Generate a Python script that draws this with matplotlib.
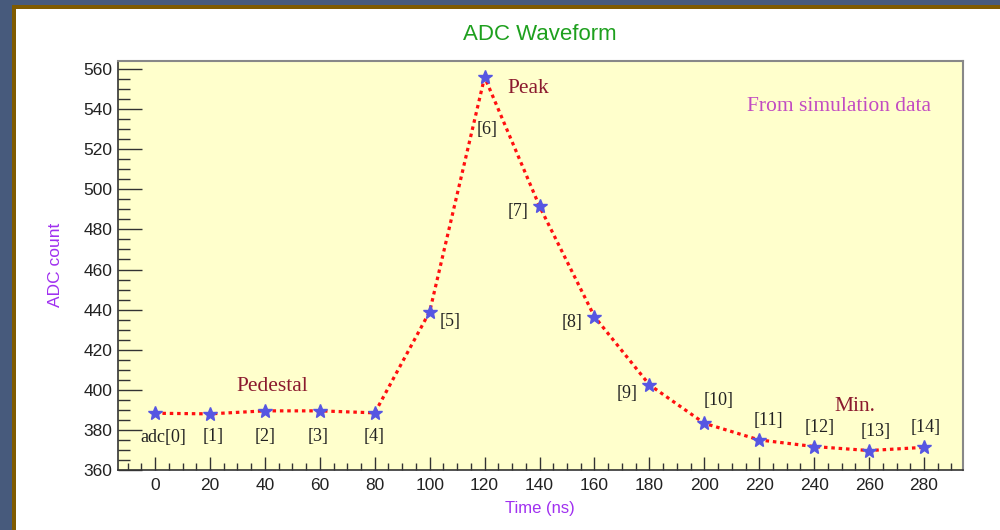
import matplotlib
matplotlib.use("Agg")
import matplotlib.pyplot as plt
from matplotlib.patches import Rectangle
from matplotlib.ticker import MultipleLocator

# ---- data ----
time_ns = [0, 20, 40, 60, 80, 100, 120, 140, 160, 180, 200, 220, 240, 260, 280]
adc = [388.3, 388.0, 389.5, 389.5, 388.5, 439.0, 556.0, 491.5, 436.5, 402.5,
       383.3, 375.0, 371.7, 369.7, 371.3]
point_labels = ["adc[0]", "[1]", "[2]", "[3]", "[4]", "[5]", "[6]", "[7]", "[8]",
                "[9]", "[10]", "[11]", "[12]", "[13]", "[14]"]
x_ticks = list(range(0, 281, 20))
y_ticks = list(range(360, 561, 20))

# label offsets in pixels relative to each point
label_offsets = [(8, -24), (3, -23), (0, -26), (-2, -26), (-1, -24), (20, -10),
                 (3, -52), (-21, -5), (-22, -6), (-22, -9), (14, 23), (9, 19),
                 (6, 19), (7, 19), (2, 20)]

fig = plt.figure(figsize=(10, 5.3), dpi=100)
fig.patch.set_facecolor("white")

W, H = 1000.0, 530.0
# outer frame (blue background, brown border, white pad)
fig.add_artist(Rectangle((0, 0), 1, 1, transform=fig.transFigure,
                         facecolor="#475a7c", edgecolor="none", zorder=-3))
fig.add_artist(Rectangle((12 / W, 0), 1, 1 - 5 / H, transform=fig.transFigure,
                         facecolor="#7f5a00", edgecolor="none", zorder=-2))
fig.add_artist(Rectangle((16 / W, 0), 1, 1 - 9 / H, transform=fig.transFigure,
                         facecolor="white", edgecolor="none", zorder=-1))

ax = fig.add_axes([118 / W, 1 - 470 / H, (963 - 118) / W, (470 - 61) / H])
ax.set_facecolor("#ffffcc")
ax.set_xlim(-13.5, 294.2)
ax.set_ylim(360, 564)

ax.plot(time_ns, adc, color="#ff1010", lw=2.3, linestyle=(0, (1.1, 1.2)),
        zorder=2)
ax.plot(time_ns, adc, linestyle="none", marker="*", ms=10.5,
        color="#5656e2", markeredgecolor="#5656e2", zorder=3)

serif = ["Liberation Serif", "DejaVu Serif"]
for t, v, lab, (dx, dy) in zip(time_ns, adc, point_labels, label_offsets):
    ax.annotate(lab, xy=(t, v), xytext=(dx, dy), textcoords="offset pixels",
                ha="center", va="center", fontsize=13, family=serif,
                color="#222222", zorder=4)

ax.annotate("Peak", xy=(time_ns[6], adc[6]), xytext=(44, -11),
            textcoords="offset pixels", ha="center", va="center",
            fontsize=15.5, family=serif, color="#8b1a2e")
ax.annotate("Pedestal", xy=(time_ns[2], adc[2]), xytext=(7, 24),
            textcoords="offset pixels", ha="center", va="center",
            fontsize=15.5, family=serif, color="#8b1a2e")
ax.annotate("Min.", xy=(time_ns[13], adc[13]), xytext=(-14, 44),
            textcoords="offset pixels", ha="center", va="center",
            fontsize=15.5, family=serif, color="#8b1a2e")
ax.text(0.853, 0.889, "From simulation data", transform=ax.transAxes,
        ha="center", va="center", fontsize=15.5, family=serif,
        color="#c24cc2")

# ticks
ax.set_xticks(x_ticks)
ax.set_yticks(y_ticks)
ax.xaxis.set_minor_locator(MultipleLocator(5))
ax.yaxis.set_minor_locator(MultipleLocator(5))
ax.tick_params(axis="x", which="major", direction="in", length=9.5, width=1,
               color="#333333", pad=6, labelsize=12.5, labelcolor="#222222",
               top=False)
ax.tick_params(axis="x", which="minor", direction="in", length=5, width=1,
               color="#333333", top=False)
ax.tick_params(axis="y", which="major", direction="in", length=17.5, width=1,
               color="#333333", pad=4, labelsize=12.5, labelcolor="#222222",
               right=False)
ax.tick_params(axis="y", which="minor", direction="in", length=8.5, width=1,
               color="#333333", right=False)
for lab in ax.get_xticklabels() + ax.get_yticklabels():
    lab.set_family(["Liberation Sans", "DejaVu Sans"])

for side in ("left", "bottom"):
    ax.spines[side].set_color("#333333")
    ax.spines[side].set_linewidth(1.2)
for side in ("top", "right"):
    ax.spines[side].set_color("#888888")
    ax.spines[side].set_linewidth(1.5)

sans = ["Liberation Sans", "DejaVu Sans"]
fig.text(540 / W, 1 - 34 / H, "ADC Waveform", ha="center", va="center",
         fontsize=16, family=sans, color="#1ea01e")
fig.text(540 / W, 1 - 508 / H, "Time (ns)", ha="center", va="center",
         fontsize=12, family=sans, color="#a030f0")
fig.text(55 / W, 1 - 265 / H, "ADC count", ha="center", va="center",
         rotation=90, fontsize=12.5, family=sans, color="#a030f0")

fig.savefig("out.png", dpi=100, facecolor=fig.get_facecolor())
